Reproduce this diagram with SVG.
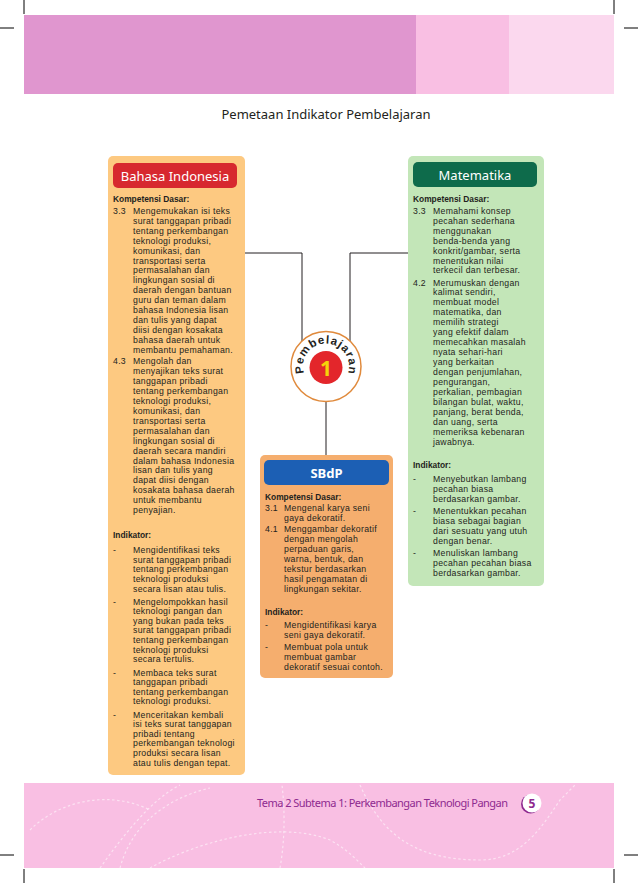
<svg xmlns="http://www.w3.org/2000/svg" width="638" height="883" viewBox="0 0 638 883">
<style>
.t{font-family:"Liberation Sans",Arial,sans-serif;font-size:8.7px;letter-spacing:0.3px;fill:#231f20}
.b{font-weight:bold;font-size:8.4px;letter-spacing:0}
.h{font-family:"Noto Sans","Liberation Sans",sans-serif;font-size:13px;fill:#fff;text-anchor:middle}
.cut{stroke:#000;stroke-width:1}
.con{fill:none;stroke:#231f20;stroke-width:1}
.dash{fill:none;stroke:#fff;stroke-width:1.2;stroke-dasharray:2.5 2.5;opacity:0.55}
.arc{font-family:"Liberation Sans",Arial,sans-serif;font-size:11.5px;font-weight:bold;fill:#231f20;text-anchor:middle}
</style>
<rect width="638" height="883" fill="#fff"/>
<g id="crop-marks">
<line class="cut" x1="24" y1="0" x2="24" y2="14"/>
<line class="cut" x1="0" y1="28" x2="14" y2="28"/>
<line class="cut" x1="614" y1="0" x2="614" y2="14"/>
<line class="cut" x1="624" y1="28" x2="638" y2="28"/>
<line class="cut" x1="0" y1="855" x2="14" y2="855"/>
<line class="cut" x1="624" y1="855" x2="638" y2="855"/>
<line class="cut" x1="24" y1="869" x2="24" y2="883"/>
<line class="cut" x1="614" y1="869" x2="614" y2="883"/>
</g>
<g id="header-band">
<rect x="24" y="15" width="392" height="79" fill="#e096cf"/>
<rect x="416" y="15" width="93" height="79" fill="#f9bfe3"/>
<rect x="509" y="15" width="105" height="79" fill="#fbd8ee"/>
</g>
<text id="title" x="326" y="119" font-family="Noto Sans, Liberation Sans, sans-serif" font-size="13" fill="#231f20" text-anchor="middle">Pemetaan Indikator Pembelajaran</text>

<g id="connectors">
<polyline class="con" points="245,253 302,253 302,341"/>
<polyline class="con" points="408,253 350,253 350,341"/>
<line class="con" x1="326" y1="401" x2="326" y2="455"/>
</g>

<g id="bahasa-indonesia">
<rect x="108" y="156" width="137" height="619" rx="5" fill="#fdc981"/>
<rect x="113" y="163" width="124" height="25" rx="5" fill="#d7282f"/>
<text class="h" x="175" y="181">Bahasa Indonesia</text>
<text class="t b" x="113" y="202">Kompetensi Dasar:</text>
<text class="t" x="113" y="214">3.3</text>
<text class="t"><tspan x="133" y="214">Mengemukakan isi teks</tspan><tspan x="133" dy="9.9">surat tanggapan pribadi</tspan><tspan x="133" dy="9.9">tentang perkembangan</tspan><tspan x="133" dy="9.9">teknologi produksi,</tspan><tspan x="133" dy="9.9">komunikasi, dan</tspan><tspan x="133" dy="9.9">transportasi serta</tspan><tspan x="133" dy="9.9">permasalahan dan</tspan><tspan x="133" dy="9.9">lingkungan sosial di</tspan><tspan x="133" dy="9.9">daerah dengan bantuan</tspan><tspan x="133" dy="9.9">guru dan teman dalam</tspan><tspan x="133" dy="9.9">bahasa Indonesia lisan</tspan><tspan x="133" dy="9.9">dan tulis yang dapat</tspan><tspan x="133" dy="9.9">diisi dengan kosakata</tspan><tspan x="133" dy="9.9">bahasa daerah untuk</tspan><tspan x="133" dy="9.9">membantu pemahaman.</tspan></text>
<text class="t" x="113" y="364">4.3</text>
<text class="t"><tspan x="133" y="364">Mengolah dan</tspan><tspan x="133" dy="9.95">menyajikan teks surat</tspan><tspan x="133" dy="9.95">tanggapan pribadi</tspan><tspan x="133" dy="9.95">tentang perkembangan</tspan><tspan x="133" dy="9.95">teknologi produksi,</tspan><tspan x="133" dy="9.95">komunikasi, dan</tspan><tspan x="133" dy="9.95">transportasi serta</tspan><tspan x="133" dy="9.95">permasalahan dan</tspan><tspan x="133" dy="9.95">lingkungan sosial di</tspan><tspan x="133" dy="9.95">daerah secara mandiri</tspan><tspan x="133" dy="9.95">dalam bahasa Indonesia</tspan><tspan x="133" dy="9.95">lisan dan tulis yang</tspan><tspan x="133" dy="9.95">dapat diisi dengan</tspan><tspan x="133" dy="9.95">kosakata bahasa daerah</tspan><tspan x="133" dy="9.95">untuk membantu</tspan><tspan x="133" dy="9.95">penyajian.</tspan></text>
<text class="t b" x="113" y="538">Indikator:</text>
<text class="t" x="113" y="553">-</text>
<text class="t"><tspan x="133" y="553">Mengidentifikasi teks</tspan><tspan x="133" dy="9.65">surat tanggapan pribadi</tspan><tspan x="133" dy="9.65">tentang perkembangan</tspan><tspan x="133" dy="9.65">teknologi produksi</tspan><tspan x="133" dy="9.65">secara lisan atau tulis.</tspan></text>
<text class="t" x="113" y="604.5">-</text>
<text class="t"><tspan x="133" y="604.5">Mengelompokkan hasil</tspan><tspan x="133" dy="9.65">teknologi pangan dan</tspan><tspan x="133" dy="9.65">yang bukan pada teks</tspan><tspan x="133" dy="9.65">surat tanggapan pribadi</tspan><tspan x="133" dy="9.65">tentang perkembangan</tspan><tspan x="133" dy="9.65">teknologi produksi</tspan><tspan x="133" dy="9.65">secara tertulis.</tspan></text>
<text class="t" x="113" y="675.5">-</text>
<text class="t"><tspan x="133" y="675.5">Membaca teks surat</tspan><tspan x="133" dy="9.65">tanggapan pribadi</tspan><tspan x="133" dy="9.65">tentang perkembangan</tspan><tspan x="133" dy="9.65">teknologi produksi.</tspan></text>
<text class="t" x="113" y="717.5">-</text>
<text class="t"><tspan x="133" y="717.5">Menceritakan kembali</tspan><tspan x="133" dy="9.65">isi teks surat tanggapan</tspan><tspan x="133" dy="9.65">pribadi tentang</tspan><tspan x="133" dy="9.65">perkembangan teknologi</tspan><tspan x="133" dy="9.65">produksi secara lisan</tspan><tspan x="133" dy="9.65">atau tulis dengan tepat.</tspan></text>
</g>

<g id="matematika">
<rect x="408" y="156" width="136" height="430" rx="5" fill="#c3e6b8"/>
<rect x="413" y="162" width="124" height="25" rx="5" fill="#0e6b4b"/>
<text class="h" x="475" y="180">Matematika</text>
<text class="t b" x="413" y="202">Kompetensi Dasar:</text>
<text class="t" x="413" y="214">3.3</text>
<text class="t"><tspan x="433" y="214">Memahami konsep</tspan><tspan x="433" dy="9.9">pecahan sederhana</tspan><tspan x="433" dy="9.9">menggunakan</tspan><tspan x="433" dy="9.9">benda-benda yang</tspan><tspan x="433" dy="9.9">konkrit/gambar, serta</tspan><tspan x="433" dy="9.9">menentukan nilai</tspan><tspan x="433" dy="9.9">terkecil dan terbesar.</tspan></text>
<text class="t" x="413" y="285.5">4.2</text>
<text class="t"><tspan x="433" y="285.5">Merumuskan dengan</tspan><tspan x="433" dy="9.94">kalimat sendiri,</tspan><tspan x="433" dy="9.94">membuat model</tspan><tspan x="433" dy="9.94">matematika, dan</tspan><tspan x="433" dy="9.94">memilih strategi</tspan><tspan x="433" dy="9.94">yang efektif dalam</tspan><tspan x="433" dy="9.94">memecahkan masalah</tspan><tspan x="433" dy="9.94">nyata sehari-hari</tspan><tspan x="433" dy="9.94">yang berkaitan</tspan><tspan x="433" dy="9.94">dengan penjumlahan,</tspan><tspan x="433" dy="9.94">pengurangan,</tspan><tspan x="433" dy="9.94">perkalian, pembagian</tspan><tspan x="433" dy="9.94">bilangan bulat, waktu,</tspan><tspan x="433" dy="9.94">panjang, berat benda,</tspan><tspan x="433" dy="9.94">dan uang, serta</tspan><tspan x="433" dy="9.94">memeriksa kebenaran</tspan><tspan x="433" dy="9.94">jawabnya.</tspan></text>
<text class="t b" x="413" y="468">Indikator:</text>
<text class="t" x="413" y="482">-</text>
<text class="t"><tspan x="433" y="482">Menyebutkan  lambang</tspan><tspan x="433" dy="9.8">pecahan biasa</tspan><tspan x="433" dy="9.8">berdasarkan gambar.</tspan></text>
<text class="t" x="413" y="514.1">-</text>
<text class="t"><tspan x="433" y="514.1">Menentukkan pecahan</tspan><tspan x="433" dy="9.8">biasa sebagai bagian</tspan><tspan x="433" dy="9.8">dari sesuatu yang utuh</tspan><tspan x="433" dy="9.8">dengan benar.</tspan></text>
<text class="t" x="413" y="556">-</text>
<text class="t"><tspan x="433" y="556">Menuliskan lambang</tspan><tspan x="433" dy="9.8">pecahan pecahan biasa</tspan><tspan x="433" dy="9.8">berdasarkan gambar.</tspan></text>
</g>

<g id="pembelajaran-1">
<circle cx="326" cy="366.5" r="35" fill="#fff" stroke="#e08a3c" stroke-width="1.5"/>
<circle cx="326" cy="367.5" r="16.5" fill="#e3262b"/>
<text x="326" y="375.5" font-family="Noto Sans, Liberation Sans, sans-serif" font-size="21" font-weight="bold" fill="#f5d20a" text-anchor="middle">1</text>
<text class="arc" x="326" y="343.5" transform="rotate(-97.25 326 366.5)">P</text>
<text class="arc" x="326" y="343.5" transform="rotate(-77.24 326 366.5)">e</text>
<text class="arc" x="326" y="343.5" transform="rotate(-54.07 326 366.5)">m</text>
<text class="arc" x="326" y="343.5" transform="rotate(-30.09 326 366.5)">b</text>
<text class="arc" x="326" y="343.5" transform="rotate(-10.88 326 366.5)">e</text>
<text class="arc" x="326" y="343.5" transform="rotate(3.55 326 366.5)">l</text>
<text class="arc" x="326" y="343.5" transform="rotate(17.98 326 366.5)">a</text>
<text class="arc" x="326" y="343.5" transform="rotate(32.43 326 366.5)">j</text>
<text class="arc" x="326" y="343.5" transform="rotate(46.86 326 366.5)">a</text>
<text class="arc" x="326" y="343.5" transform="rotate(62.88 326 366.5)">r</text>
<text class="arc" x="326" y="343.5" transform="rotate(78.89 326 366.5)">a</text>
<text class="arc" x="326" y="343.5" transform="rotate(98.1 326 366.5)">n</text>
</g>

<g id="sbdp">
<rect x="260" y="455" width="133" height="223" rx="5" fill="#f5ae6e"/>
<rect x="264" y="460" width="125" height="25" rx="5" fill="#1c5fb4"/>
<text class="h" x="326.5" y="478" font-size="14" font-weight="bold">SBdP</text>
<text class="t b" x="265" y="500">Kompetensi Dasar:</text>
<text class="t" x="265" y="511">3.1</text>
<text class="t"><tspan x="284" y="511">Mengenal karya seni</tspan><tspan x="284" dy="10">gaya dekoratif.</tspan></text>
<text class="t" x="265" y="532">4.1</text>
<text class="t"><tspan x="284" y="532">Menggambar dekoratif</tspan><tspan x="284" dy="10">dengan mengolah</tspan><tspan x="284" dy="10">perpaduan garis,</tspan><tspan x="284" dy="10">warna, bentuk, dan</tspan><tspan x="284" dy="10">tekstur berdasarkan</tspan><tspan x="284" dy="10">hasil pengamatan di</tspan><tspan x="284" dy="10">lingkungan sekitar.</tspan></text>
<text class="t b" x="265" y="615">Indikator:</text>
<text class="t" x="265" y="628">-</text>
<text class="t"><tspan x="284" y="628">Mengidentifikasi karya</tspan><tspan x="284" dy="10">seni gaya dekoratif.</tspan></text>
<text class="t" x="265" y="650">-</text>
<text class="t"><tspan x="284" y="650">Membuat pola untuk</tspan><tspan x="284" dy="10">membuat gambar</tspan><tspan x="284" dy="10">dekoratif sesuai contoh.</tspan></text>
</g>

<g id="footer">
<rect x="24" y="783" width="590" height="85" fill="#f9bfe3"/>
<path class="dash" d="M30,830 C60,800 110,790 150,810"/>
<path class="dash" d="M100,868 C120,840 150,800 180,785"/>
<path class="dash" d="M150,868 C200,840 280,820 330,840 C345,848 355,858 365,868"/>
<path class="dash" d="M280,868 C285,840 285,810 282,785"/>
<path class="dash" d="M360,785 C380,830 410,860 480,860 C520,860 540,830 560,800 C565,795 570,790 575,785"/>
<path class="dash" d="M120,868 C130,830 160,800 210,788"/>
<text x="257" y="807" font-family="Noto Sans, Liberation Sans, sans-serif" font-size="11" fill="#8e2a8f" textLength="251" lengthAdjust="spacing">Tema 2 Subtema 1: Perkembangan Teknologi Pangan</text>
<circle cx="530.5" cy="804" r="9.5" fill="#8e2a8f"/>
<circle cx="532" cy="803" r="9.5" fill="#fff"/>
<text x="532" y="807.5" font-family="Noto Sans, Liberation Sans, sans-serif" font-size="12" font-weight="bold" fill="#8e2a8f" text-anchor="middle">5</text>
</g>
</svg>
